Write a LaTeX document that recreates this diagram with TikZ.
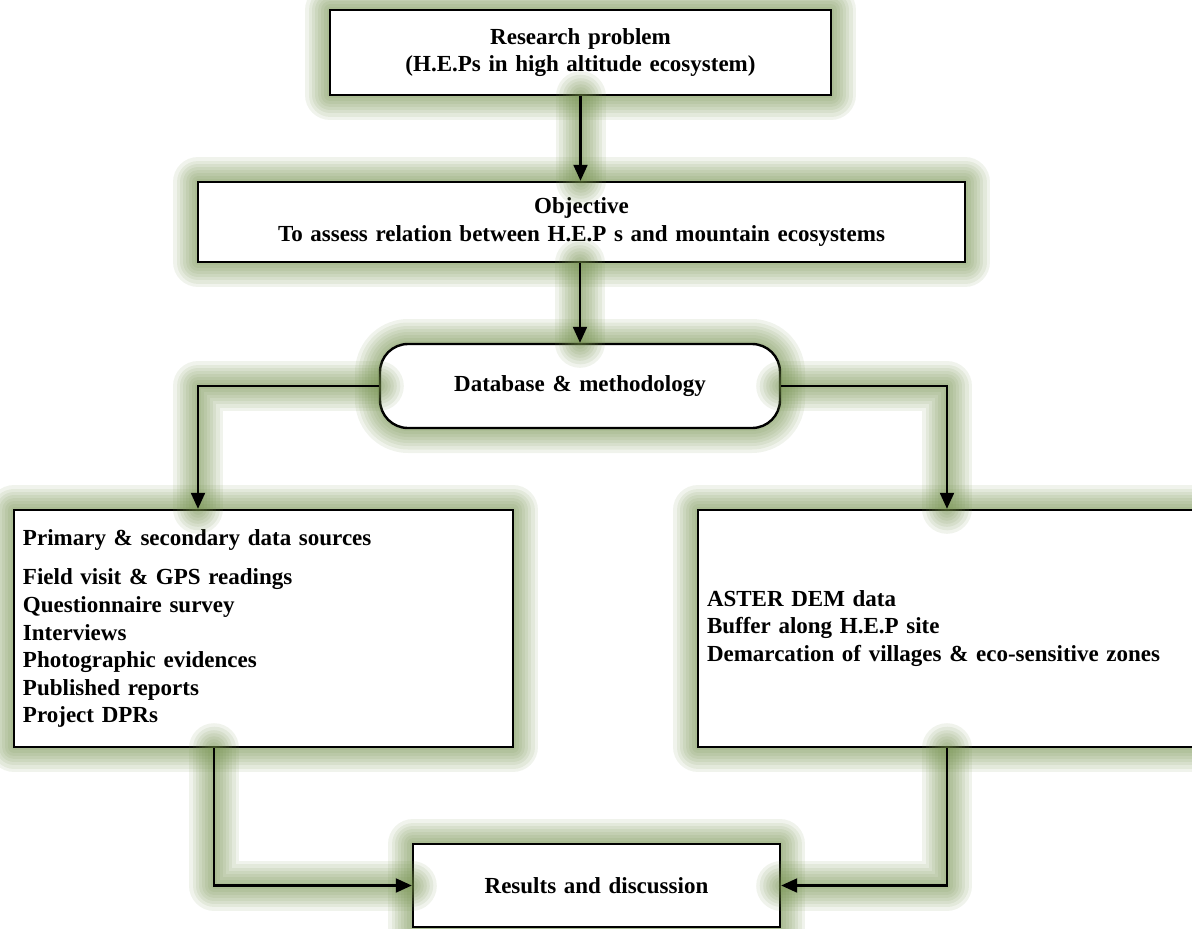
\documentclass[tikz,border=0pt]{standalone}
\usepackage{fontspec}
\setmainfont{Liberation Serif}
\usetikzlibrary{arrows.meta}

\definecolor{glowc}{RGB}{110,140,70}

\tikzset{
  glowring/.style={preaction={draw=glowc, line width=#1, opacity=.1, line join=round, line cap=round, arrows=-}},
  glow/.style={glowring=50pt, glowring=43pt, glowring=36pt, glowring=30pt,
    glowring=24pt, glowring=18pt, glowring=12pt, glowring=6pt},
  box/.style={draw, fill=white, line width=2.4pt, inner xsep=9pt, inner ysep=0pt,
    align=left, font=\bfseries\fontsize{23}{27.6}\selectfont, glow},
  flow/.style={draw, line width=2.2pt, -{Triangle[length=16pt,width=14pt]}, glow}
}

\begin{document}
\begin{tikzpicture}[x=1pt,y=-1pt]
      \useasboundingbox (0,0) rectangle (1192,929);

      \begin{scope}[every node/.style={box}]
        \node[text width=483pt, minimum height=85pt, align=center] (prob) at (580.5,52.5)
          {Research problem\\(H.E.Ps in high altitude ecosystem)};
        \node[text width=749pt, minimum height=80pt, align=center] (obj) at (581.5,222)
          {Objective\\To assess relation between H.E.P s and mountain ecosystems};
        \node[text width=382pt, minimum height=84pt, align=center, rounded corners=28pt] (db) at (580,386)
          {Database \& methodology};
        \node[text width=481pt, minimum height=237pt] (src) at (263.5,628.5)
          {Primary \& secondary data sources\\[12pt]
           Field visit \& GPS readings\\
           Questionnaire survey\\
           Interviews\\
           Photographic evidences\\
           Published reports\\
           Project DPRs};
        \node[text width=480pt, minimum height=237pt] (gis) at (947,628.5)
          {ASTER DEM data\\
           Buffer along H.E.P site\\
           Demarcation of villages \& eco-sensitive zones};
        \node[text width=349pt, minimum height=83pt, align=center] (res) at (596.5,885.5)
          {Results and discussion};
      \end{scope}

      % bends of the side connectors
      \coordinate (lx) at (198,0);
      \coordinate (bx) at (214,0);

      \draw[flow] (prob.south) -- (prob.south |- obj.north);
      \draw[flow] (db.north |- obj.south) -- (db.north);
      \draw[flow] (db.west) -| (src.north -| lx);
      \draw[flow] (db.east) -| (gis.north);
      \draw[flow] (src.south -| bx) |- (res.west);
      \draw[flow] (gis.south) |- (res.east);

\end{tikzpicture}
\end{document}
